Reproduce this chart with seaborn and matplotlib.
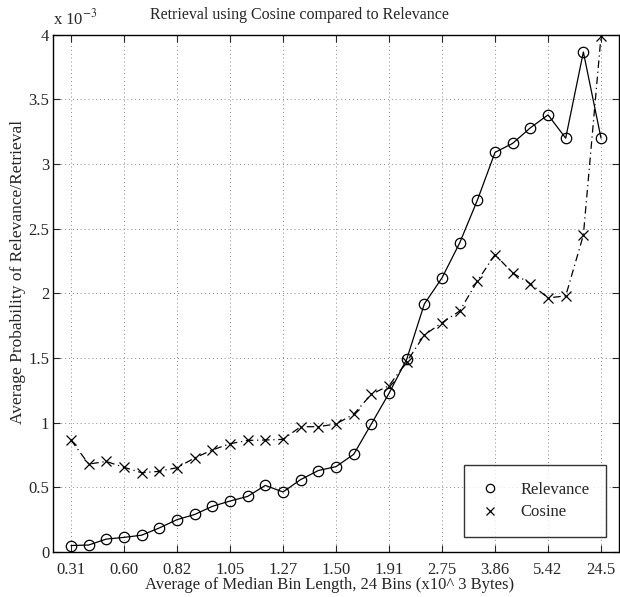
import numpy as np
import pandas as pd
import matplotlib
matplotlib.use("Agg")
import matplotlib.pyplot as plt
import seaborn as sns

# values in units of 10^-3
bin_index = list(range(1, 32))
relevance = [0.05, 0.054, 0.10, 0.113, 0.13, 0.186, 0.25, 0.29, 0.353, 0.394,
             0.43, 0.515, 0.464, 0.56, 0.63, 0.66, 0.755, 0.99, 1.227, 1.49,
             1.918, 2.12, 2.39, 2.72, 3.09, 3.16, 3.28, 3.38, 3.20, 3.866, 3.20]
cosine = [0.866, 0.68, 0.70, 0.655, 0.613, 0.624, 0.652, 0.727, 0.789, 0.837,
          0.863, 0.866, 0.871, 0.969, 0.969, 0.99, 1.065, 1.22, 1.286, 1.47,
          1.678, 1.773, 1.863, 2.095, 2.30, 2.157, 2.075, 1.965, 1.98, 2.45, 3.99]
tick_pos = [1, 4, 7, 10, 13, 16, 19, 22, 25, 28, 31]
tick_labels = ["0.31", "0.60", "0.82", "1.05", "1.27", "1.50", "1.91",
               "2.75", "3.86", "5.42", "24.5"]
ytick_vals = [0, 0.5, 1, 1.5, 2, 2.5, 3, 3.5, 4]
ytick_labels = ["0", "0.5", "1", "1.5", "2", "2.5", "3", "3.5", "4"]

sns.set_style("white")
plt.rcParams['font.family'] = ['Liberation Serif', 'DejaVu Serif']
plt.rcParams['mathtext.fontset'] = 'stix'

df = pd.DataFrame({"x": bin_index, "Relevance": relevance, "Cosine": cosine})

fig = plt.figure(figsize=(6.2, 5.97), dpi=100)
ax = fig.add_axes([53.3 / 620, 1 - 552 / 597, (618.7 - 53.3) / 620, (552 - 34.7) / 597])

sns.lineplot(data=df, x="x", y="Relevance", ax=ax, color="k", linewidth=0.9,
             linestyle="-", marker="o", markersize=7.5, markerfacecolor="none",
             markeredgecolor="k", markeredgewidth=0.9, label="Relevance")
sns.lineplot(data=df, x="x", y="Cosine", ax=ax, color="k", linewidth=0.9,
             linestyle=(0, (6, 3, 1, 3)), marker="x", markersize=7.5,
             markeredgecolor="k", markeredgewidth=0.9, label="Cosine")

ax.set_xlim(0, 32)
ax.set_ylim(0, 4)
ax.set_xticks(tick_pos)
ax.set_xticklabels(tick_labels, fontsize=12)
ax.set_yticks(ytick_vals)
ax.set_yticklabels(ytick_labels, fontsize=12)
ax.tick_params(direction="in", length=5, width=0.8, top=True, right=True,
               bottom=True, left=True)
ax.tick_params(axis="x", pad=7)
ax.tick_params(axis="y", pad=3)
ax.grid(True, linestyle=(0, (1, 3)), color="#888888", linewidth=0.7)
for s in ax.spines.values():
    s.set_color("k")
    s.set_linewidth(1.0)

ax.set_xlabel("")
ax.set_ylabel("")
fig.text(330 / 620, 1 - 585 / 597, "Average of Median Bin Length, 24 Bins (x10^ 3 Bytes)",
         ha="center", va="center", fontsize=12)
fig.text(18 / 620, 1 - 272 / 597, "Average Probability of Relevance/Retrieval",
         ha="center", va="center", rotation=90, fontsize=12.5)
fig.text(299 / 620, 1 - 15 / 597, "Retrieval using Cosine compared to Relevance",
         ha="center", va="center", fontsize=11.5)
ax.text(0.0, 1.012, r"x 10$^{-3}$", transform=ax.transAxes, ha="left", va="bottom",
        fontsize=12)

leg = ax.legend(loc="lower right", bbox_to_anchor=(606 / 620, 1 - 537 / 597),
                bbox_transform=fig.transFigure, frameon=True, fancybox=False,
                edgecolor="k", fontsize=12, handlelength=1.2, borderpad=1.0,
                labelspacing=0.4, handletextpad=1.2, borderaxespad=0)
leg.get_frame().set_linewidth(1.0)
for h in leg.legend_handles:
    h.set_linestyle("none")
    h.set_markersize(6)

fig.savefig("out.png", dpi=100)
